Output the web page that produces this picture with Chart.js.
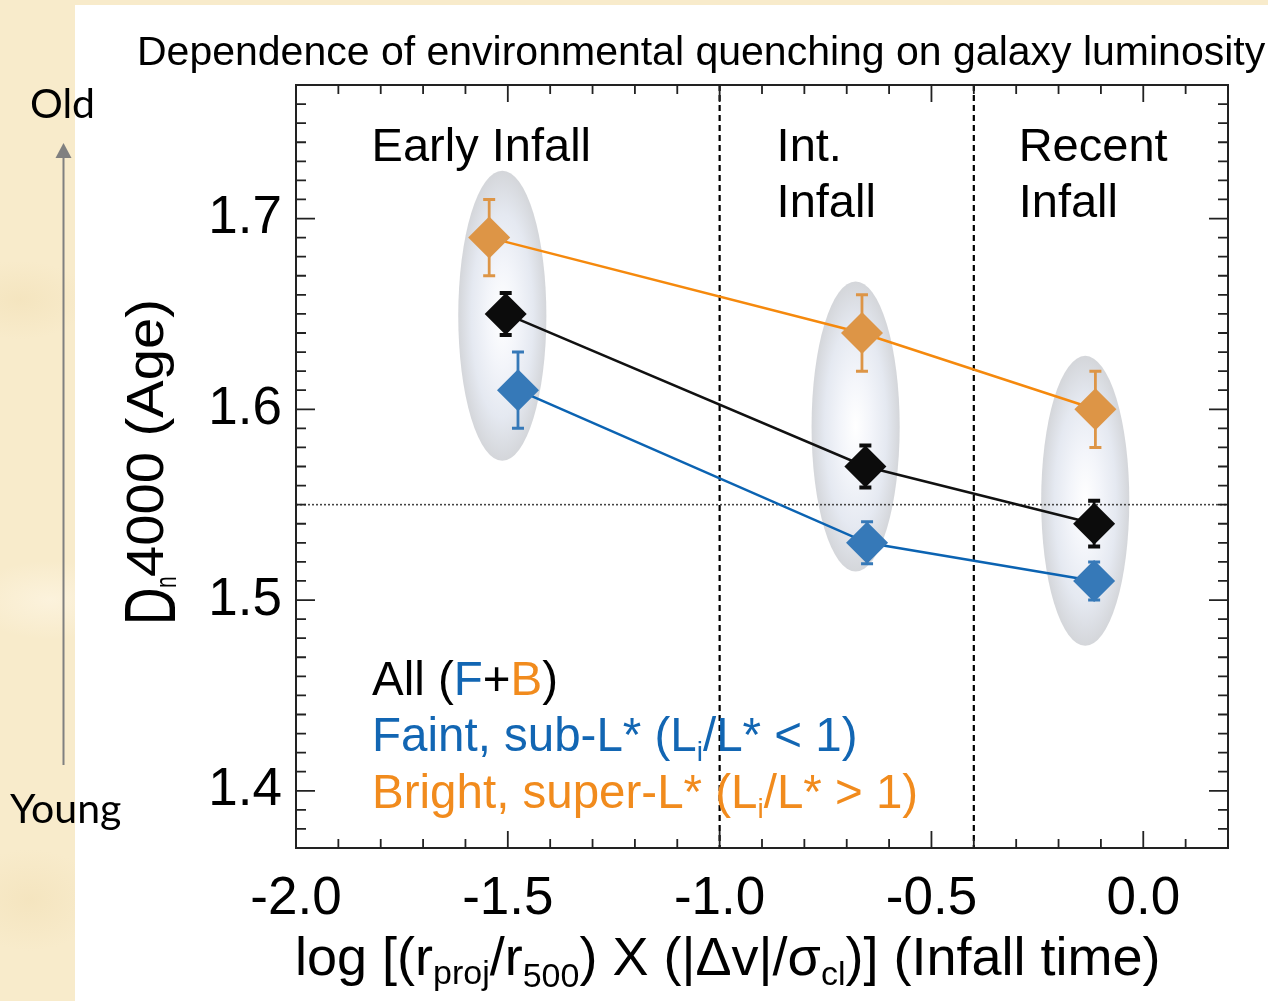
<!DOCTYPE html>
<html><head><meta charset="utf-8">
<script src="https://cdn.jsdelivr.net/npm/chart.js@4.4.1/dist/chart.umd.min.js"></script>
<style>
html,body{margin:0;padding:0;width:1268px;height:1001px;overflow:hidden;
  background:#f8ebcb;
  background-image:radial-gradient(ellipse at 20px 300px,rgba(244,228,190,0.9) 0,rgba(244,228,190,0) 70px),
    radial-gradient(ellipse at 50px 600px,rgba(252,243,222,0.9) 0,rgba(252,243,222,0) 80px),
    radial-gradient(ellipse at 30px 900px,rgba(244,228,190,0.9) 0,rgba(244,228,190,0) 70px);}
#paper{position:absolute;left:75px;top:5px;width:1193px;height:996px;background:#fff;}
#wrap{position:absolute;left:0;top:0;width:1268px;height:1001px;}
</style></head><body>
<div id="paper"></div>
<div id="wrap"><canvas id="c"></canvas></div>
<script>
// ---------------- data ----------------
const seriesNames = ['Bright', 'All', 'Faint'];
const xBright = [-1.544, -0.664, -0.113];
const yBright = [1.690, 1.640, 1.600];
const errBright = [0.020, 0.020, 0.020];
const xAll = [-1.505, -0.656, -0.116];
const yAll = [1.650, 1.570, 1.540];
const errAll = [0.011, 0.011, 0.012];
const xFaint = [-1.476, -0.652, -0.116];
const yFaint = [1.610, 1.530, 1.510];
const errFaint = [0.020, 0.011, 0.010];
// shaded group ellipses (centre x, centre y, half-extent in data units)
const ellipseX = [-1.513, -0.679, -0.137];
const ellipseY = [1.649, 1.591, 1.552];
const ellipseHalfX = [0.104, 0.104, 0.104];
const ellipseHalfY = [0.076, 0.076, 0.076];
// reference lines
const dividers = [-1.0, -0.4];
const refLevel = 1.55;
// axis ranges and ticks
const xRange = [-2.0, 0.2];
const yRange = [1.37, 1.77];
const xTicks = [-2.0, -1.5, -1.0, -0.5, 0.0];
const yTicks = [1.4, 1.5, 1.6, 1.7];
const xMinorStep = 0.1, yMinorStep = 0.01;
// texts
const titleText = 'Dependence of environmental quenching on galaxy luminosity';
const regionLabels = [
  {lines: ['Early Infall'], x: -1.8215},
  {lines: ['Int.', 'Infall'], x: -0.8656},
  {lines: ['Recent', 'Infall'], x: -0.2941}
];

// ---------------- styles ----------------
const FONT = '"Liberation Sans", Arial, Helvetica, sans-serif';
const BLUE_T = '#1266b3', ORANGE_T = '#f18b1d';
const style = {
  Bright: {line: '#f5890d', mark: '#dd9546'},
  All:    {line: '#111111', mark: '#0c0c0c'},
  Faint:  {line: '#0b63b2', mark: '#3679b8'}
};
const seriesData = {
  Bright: {xs: xBright, ys: yBright, err: errBright},
  All:    {xs: xAll, ys: yAll, err: errAll},
  Faint:  {xs: xFaint, ys: yFaint, err: errFaint}
};

function rich(ctx, x0, y0, parts, base, color) {
  let xx = x0;
  for (const p of parts) {
    const size = p.sub ? (p.size || base * 0.62) : base;
    ctx.font = size + 'px ' + FONT;
    ctx.fillStyle = p.color || color;
    ctx.fillText(p.t, xx, y0 + (p.sub ? (p.dy || base * 0.2) : 0));
    xx += ctx.measureText(p.t).width;
  }
  return xx - x0;
}

const decor = {
  id: 'decor',
  beforeDatasetsDraw(chart) {
    const {ctx, chartArea: a, scales: {x, y}} = chart;
    ctx.save();
    ctx.beginPath(); ctx.rect(a.left, a.top, a.width, a.height); ctx.clip();
    // ellipses
    for (let i = 0; i < ellipseX.length; i++) {
      const cx = x.getPixelForValue(ellipseX[i]), cy = y.getPixelForValue(ellipseY[i]);
      const rx = Math.abs(x.getPixelForValue(ellipseX[i] + ellipseHalfX[i]) - cx);
      const ry = Math.abs(y.getPixelForValue(ellipseY[i] + ellipseHalfY[i]) - cy);
      ctx.save();
      ctx.translate(cx, cy); ctx.scale(rx / ry, 1);
      const g = ctx.createRadialGradient(0, 0, 0, 0, 0, ry);
      g.addColorStop(0, '#ffffff');
      g.addColorStop(0.35, '#f3f5fa');
      g.addColorStop(0.7, '#e5e9f1');
      g.addColorStop(1, '#d4d6da');
      ctx.fillStyle = g;
      ctx.beginPath(); ctx.arc(0, 0, ry, 0, Math.PI * 2); ctx.fill();
      ctx.restore();
    }
    // dashed dividers
    ctx.strokeStyle = '#000'; ctx.lineWidth = 2.2; ctx.setLineDash([6, 4]);
    for (const v of dividers) {
      const px = x.getPixelForValue(v);
      ctx.beginPath(); ctx.moveTo(px, a.top); ctx.lineTo(px, a.bottom); ctx.stroke();
    }
    // dotted reference level
    ctx.setLineDash([2, 2]); ctx.lineWidth = 1.6; ctx.strokeStyle = '#444';
    const py = y.getPixelForValue(refLevel);
    ctx.beginPath(); ctx.moveTo(a.left, py); ctx.lineTo(a.right, py); ctx.stroke();
    ctx.setLineDash([]);
    // error bars
    for (const name of seriesNames) {
      const d = seriesData[name], st = style[name];
      ctx.strokeStyle = st.mark;
      for (let j = 0; j < d.xs.length; j++) {
        const px = x.getPixelForValue(d.xs[j]);
        const p1 = y.getPixelForValue(d.ys[j] + d.err[j]);
        const p2 = y.getPixelForValue(d.ys[j] - d.err[j]);
        ctx.lineWidth = 2.8;
        ctx.beginPath(); ctx.moveTo(px, p1); ctx.lineTo(px, p2); ctx.stroke();
        ctx.lineWidth = name === 'All' ? 4 : 3;
        ctx.beginPath();
        ctx.moveTo(px - 6, p1); ctx.lineTo(px + 6, p1);
        ctx.moveTo(px - 6, p2); ctx.lineTo(px + 6, p2);
        ctx.stroke();
      }
    }
    ctx.restore();
  },
  afterDraw(chart) {
    const {ctx, chartArea: a, scales: {x, y}} = chart;
    ctx.save();
    // frame
    ctx.strokeStyle = '#222'; ctx.lineWidth = 2;
    ctx.strokeRect(a.left, a.top, a.width, a.height);
    // inward tick marks on all four sides (major at labelled ticks)
    ctx.lineWidth = 1.8;
    ctx.beginPath();
    const near = (v, arr) => arr.some(t => Math.abs(t - v) < 1e-6);
    const nx0 = Math.round(xRange[0] / xMinorStep), nx1 = Math.round(xRange[1] / xMinorStep);
    for (let i = nx0; i <= nx1; i++) {
      const v = i * xMinorStep, px = x.getPixelForValue(v);
      const L = near(v, xTicks) ? 17 : 9;
      ctx.moveTo(px, a.bottom); ctx.lineTo(px, a.bottom - L);
      ctx.moveTo(px, a.top); ctx.lineTo(px, a.top + L);
    }
    const ny0 = Math.round(yRange[0] / yMinorStep), ny1 = Math.round(yRange[1] / yMinorStep);
    for (let i = ny0; i <= ny1; i++) {
      const v = i * yMinorStep, py = y.getPixelForValue(v);
      const L = near(v, yTicks) ? 19 : 10;
      ctx.moveTo(a.left, py); ctx.lineTo(a.left + L, py);
      ctx.moveTo(a.right, py); ctx.lineTo(a.right - L, py);
    }
    ctx.stroke();

    ctx.textBaseline = 'alphabetic'; ctx.textAlign = 'left';
    // title
    ctx.fillStyle = '#000'; ctx.font = '41px ' + FONT;
    ctx.fillText(titleText, 137, 65);
    // region labels
    ctx.font = '47px ' + FONT;
    for (const r of regionLabels) {
      const px = x.getPixelForValue(r.x);
      r.lines.forEach((t, k) => ctx.fillText(t, px, y.getPixelForValue(1.7304) + k * 56.7));
    }
    // legend text
    const lx = x.getPixelForValue(-1.8205);
    const ly0 = y.getPixelForValue(1.4503);
    const lh = 56.5;
    rich(ctx, lx, ly0, [{t: 'All ('}, {t: 'F', color: BLUE_T}, {t: '+'}, {t: 'B', color: ORANGE_T}, {t: ')'}], 47.5, '#000');
    rich(ctx, lx, ly0 + lh, [{t: 'Faint, sub-L* (L'}, {t: 'i', sub: true, size: 28, dy: 10}, {t: '/L* < 1)'}], 47.5, BLUE_T);
    rich(ctx, lx, ly0 + 2 * lh, [{t: 'Bright, super-L* (L'}, {t: 'i', sub: true, size: 28, dy: 10}, {t: '/L* > 1)'}], 47.5, ORANGE_T);
    // x-axis title
    rich(ctx, 295, 975, [
      {t: 'log [(r'}, {t: 'proj', sub: true, size: 34, dy: 9}, {t: '/r'}, {t: '500', sub: true, size: 34, dy: 12},
      {t: ') X (|\u0394v|/\u03c3'}, {t: 'cl', sub: true, size: 34, dy: 10}, {t: ')] (Infall time)'}
    ], 54, '#000');
    // y-axis title (rotated)
    ctx.fillStyle = '#000';
    ctx.save(); ctx.translate(175, 625); ctx.rotate(-Math.PI / 2); ctx.scale(0.72, 1);
    ctx.font = '72px ' + FONT; ctx.fillText('D', 0, 0); ctx.restore();
    ctx.save(); ctx.translate(176, 588); ctx.rotate(-Math.PI / 2); ctx.scale(0.7, 1);
    ctx.font = '30px ' + FONT; ctx.fillText('n', 0, 0); ctx.restore();
    ctx.save(); ctx.translate(163, 577); ctx.rotate(-Math.PI / 2); ctx.scale(1.08, 1);
    ctx.font = '52px ' + FONT; ctx.fillText('4000 (Age)', 0, 0); ctx.restore();
    // Old / Young arrow
    ctx.fillStyle = '#000'; ctx.font = '41px Lato, "Open Sans", sans-serif';
    ctx.fillText('Old', 30, 118);
    ctx.fillText('Young', 10, 823);
    ctx.strokeStyle = '#808080'; ctx.fillStyle = '#808080'; ctx.lineWidth = 2;
    ctx.beginPath(); ctx.moveTo(63.5, 765); ctx.lineTo(63.5, 156); ctx.stroke();
    ctx.beginPath(); ctx.moveTo(63.5, 143); ctx.lineTo(71.5, 158); ctx.lineTo(55.5, 158); ctx.closePath(); ctx.fill();
    ctx.restore();
  }
};

const datasets = seriesNames.map(name => ({
  label: name,
  data: seriesData[name].xs.map((v, j) => ({x: v, y: seriesData[name].ys[j]})),
  borderColor: style[name].line,
  borderWidth: 2.5,
  tension: 0,
  pointStyle: 'rectRot',
  pointRadius: 21,
  pointHoverRadius: 21,
  pointBackgroundColor: style[name].mark,
  pointBorderColor: style[name].mark,
  pointBorderWidth: 0,
  fill: false
}));

new Chart(document.getElementById('c'), {
  type: 'line',
  data: {datasets},
  options: {
    responsive: true, maintainAspectRatio: false, animation: false,
    layout: {padding: {top: 85, right: 40, left: 0, bottom: 0}},
    plugins: {legend: {display: false}, tooltip: {enabled: false}, title: {display: false}},
    scales: {
      x: {
        type: 'linear', min: xRange[0], max: xRange[1],
        grid: {display: false, drawTicks: false}, border: {display: false},
        afterBuildTicks(s) { s.ticks = xTicks.map(v => ({value: v})); },
        ticks: {maxRotation: 0, autoSkip: false,
          color: '#000', font: {size: 53, family: FONT}, padding: 20,
          callback: v => (Math.abs(v) < 1e-9 ? 0 : v).toFixed(1)},
        afterFit(s) { s.height = 153; }
      },
      y: {
        type: 'linear', min: yRange[0], max: yRange[1],
        grid: {display: false, drawTicks: false}, border: {display: false},
        afterBuildTicks(s) { s.ticks = yTicks.map(v => ({value: v})); },
        ticks: {autoSkip: false,
          color: '#000', font: {size: 53, family: FONT}, padding: 14,
          callback: v => v.toFixed(1)},
        afterFit(s) { s.width = 296; }
      }
    }
  },
  plugins: [decor]
});
</script></body></html>
